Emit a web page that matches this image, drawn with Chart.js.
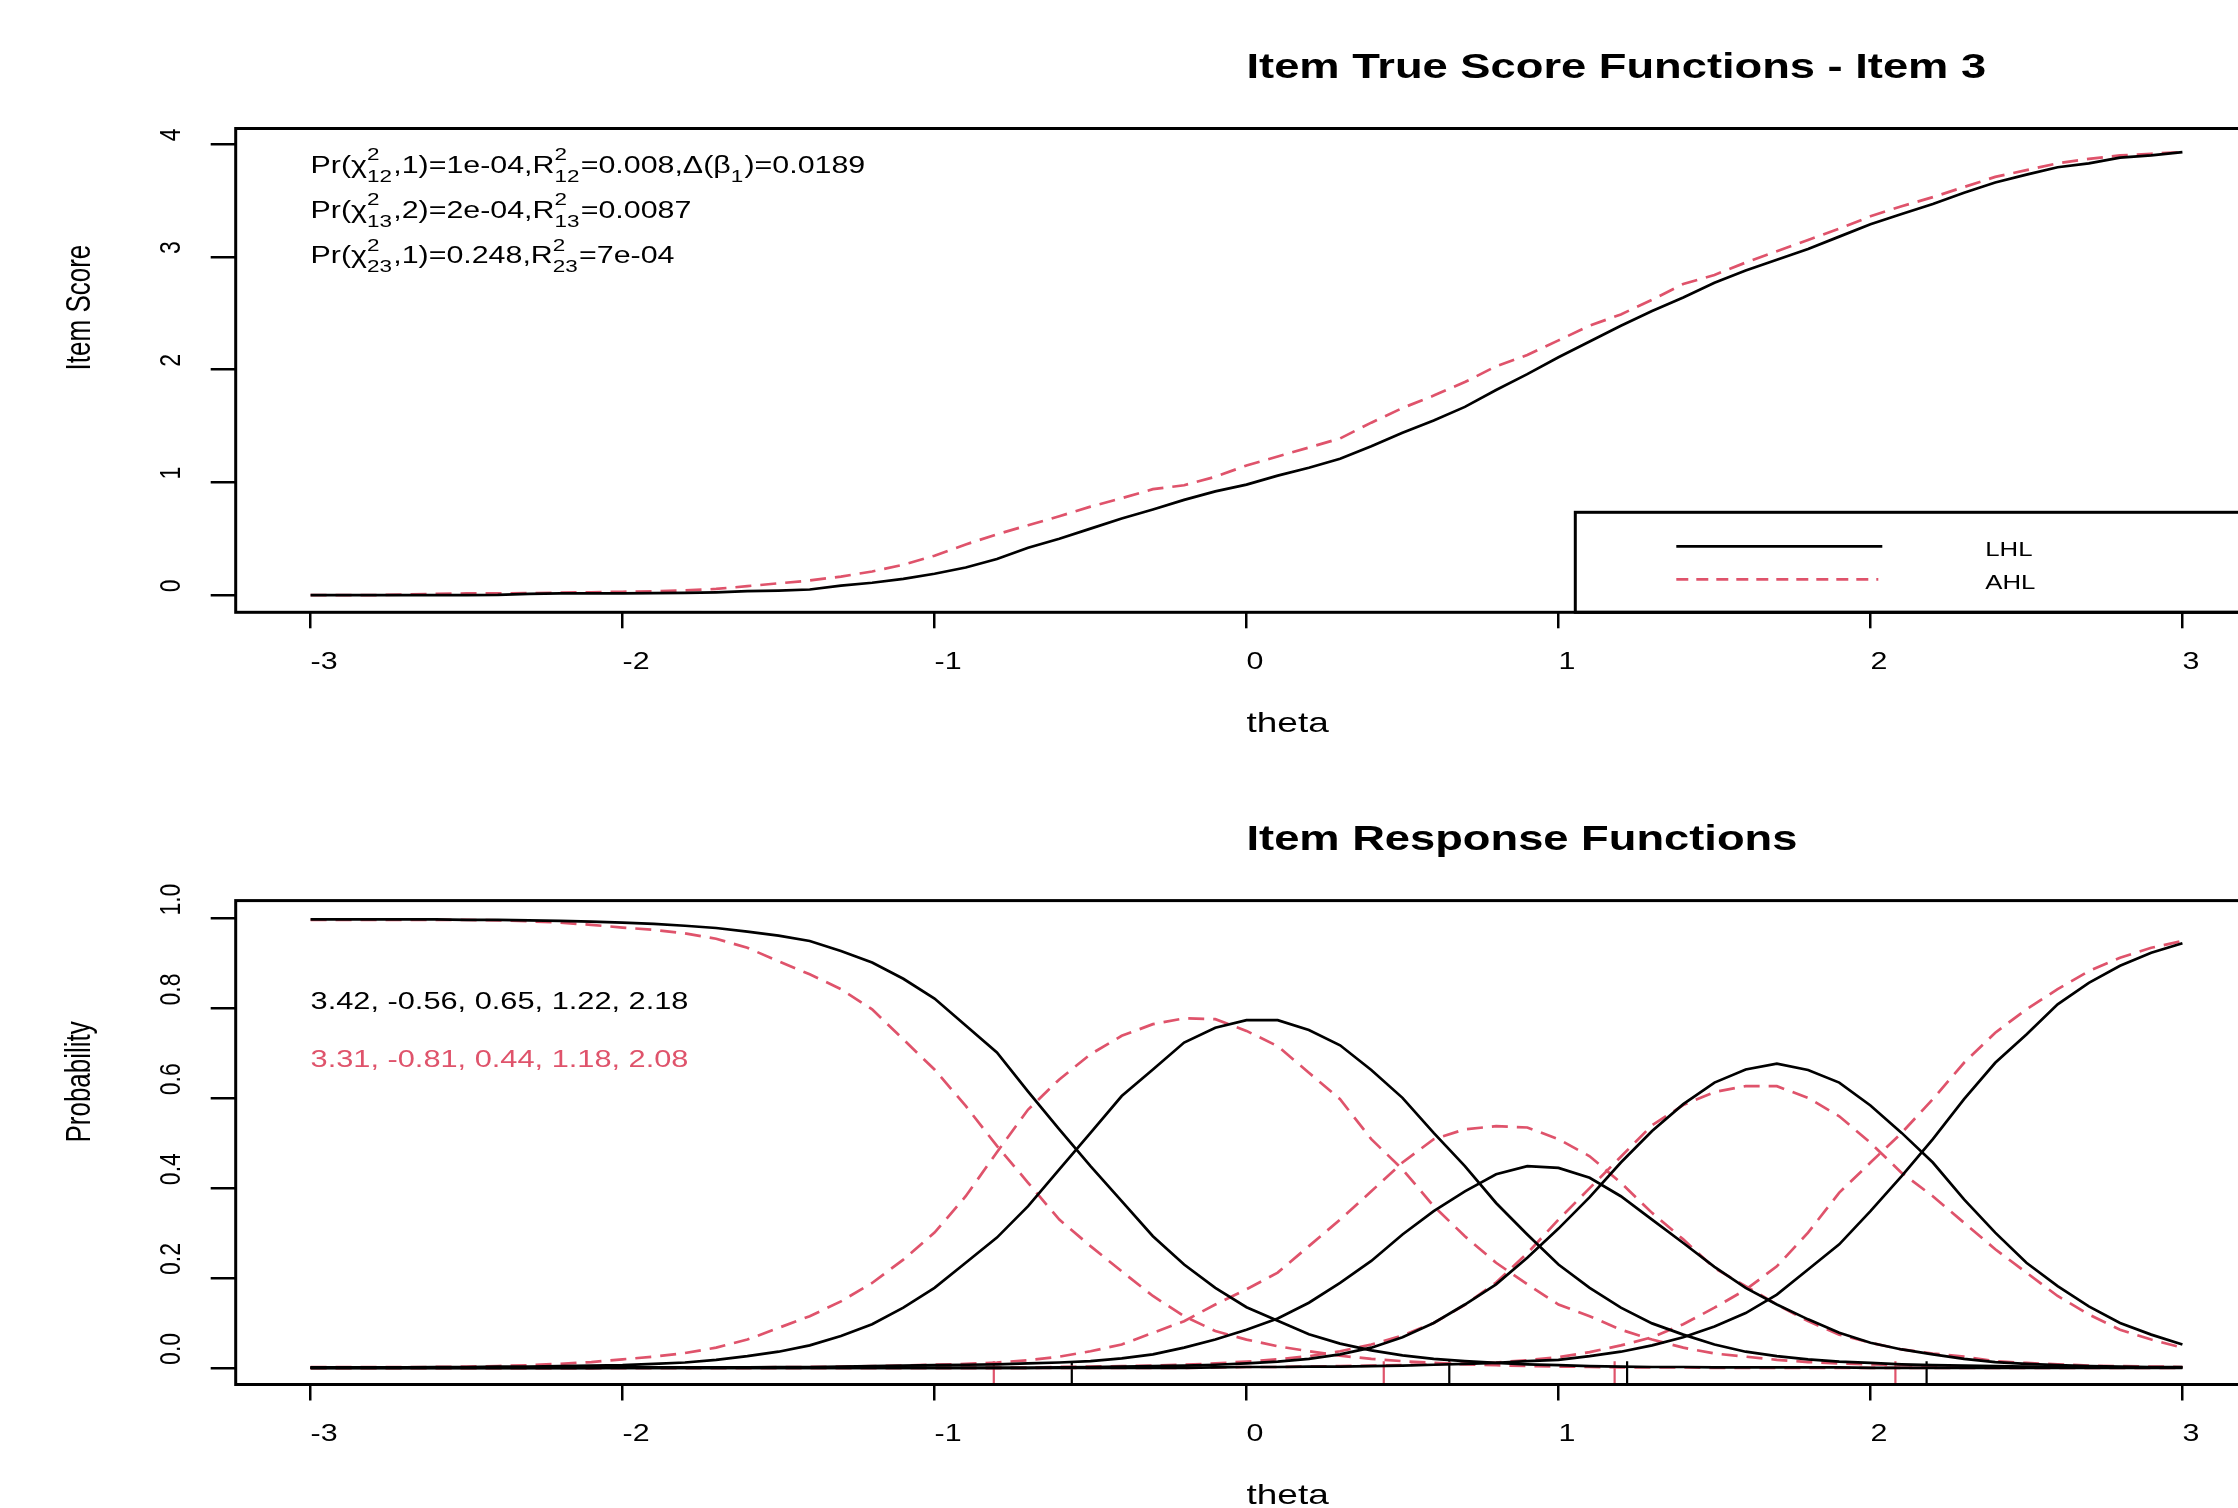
<!DOCTYPE html>
<html>
<head>
<meta charset="utf-8">
<title>Item True Score Functions - Item 3</title>
<script src="https://cdn.jsdelivr.net/npm/chart.js@4.4.0/dist/chart.umd.min.js"></script>
<style>
  html, body { margin: 0; padding: 0; background: #fff; overflow: hidden; width: 2238px; height: 1508px; }
  canvas { position: absolute; left: 0; }
  #topChart { top: 0; }
  #bottomChart { top: 760px; }
</style>
</head>
<body>
<canvas id="topChart" width="2300" height="760"></canvas>
<canvas id="bottomChart" width="2300" height="748"></canvas>

<script>
  // theta grid (x values of every curve)
  const theta = [
    -3.0, -2.9, -2.8, -2.7, -2.6, -2.5, -2.4, -2.3, -2.2, -2.1,
    -2.0, -1.9, -1.8, -1.7, -1.6, -1.5, -1.4, -1.3, -1.2, -1.1,
    -1.0, -0.9, -0.8, -0.7, -0.6, -0.5, -0.4, -0.3, -0.2, -0.1,
     0.0,  0.1,  0.2,  0.3,  0.4,  0.5,  0.6,  0.7,  0.8,  0.9,
     1.0,  1.1,  1.2,  1.3,  1.4,  1.5,  1.6,  1.7,  1.8,  1.9,
     2.0,  2.1,  2.2,  2.3,  2.4,  2.5,  2.6,  2.7,  2.8,  2.9,
     3.0
  ];
  const xTicks = [-3, -2, -1, 0, 1, 2, 3];
  const scoreTicks = [0, 1, 2, 3, 4];
  const probTicks = [0, 0.2, 0.4, 0.6, 0.8, 1.0];

  // item true score functions
  const scoreLHL = [
    0, 0, 0, 0, 0, 0, 0.002, 0.012, 0.015, 0.015,
    0.016, 0.018, 0.02, 0.025, 0.035, 0.04, 0.05, 0.085, 0.11, 0.145,
    0.19, 0.245, 0.32, 0.42, 0.5, 0.59, 0.68, 0.76, 0.845, 0.92,
    0.98, 1.06, 1.13, 1.21, 1.32, 1.44, 1.55, 1.67, 1.82, 1.96,
    2.11, 2.25, 2.39, 2.52, 2.64, 2.77, 2.88, 2.975, 3.07, 3.18,
    3.29, 3.38, 3.47, 3.57, 3.66, 3.73, 3.795, 3.83, 3.88, 3.9,
    3.93
  ];
  const scoreAHL = [
    0, 0, 0, 0.005, 0.012, 0.015, 0.015, 0.018, 0.022, 0.026,
    0.03, 0.035, 0.042, 0.055, 0.08, 0.105, 0.13, 0.165, 0.21, 0.27,
    0.35, 0.45, 0.54, 0.62, 0.7, 0.785, 0.86, 0.94, 0.975, 1.05,
    1.15, 1.23, 1.31, 1.39, 1.53, 1.66, 1.77, 1.89, 2.03, 2.13,
    2.26, 2.39, 2.49, 2.62, 2.76, 2.84, 2.95, 3.05, 3.15, 3.25,
    3.36, 3.45, 3.53, 3.62, 3.71, 3.77, 3.83, 3.87, 3.9, 3.915,
    3.93
  ];

  // item response functions, LHL (black)
  const lhlP0 = [
    0.998, 0.998, 0.998, 0.998, 0.998, 0.997, 0.997, 0.996, 0.995, 0.993,
    0.991, 0.988, 0.984, 0.979, 0.971, 0.962, 0.950, 0.928, 0.902, 0.866,
    0.822, 0.762, 0.702, 0.615, 0.531, 0.449, 0.371, 0.293, 0.230, 0.178,
    0.135, 0.105, 0.075, 0.054, 0.039, 0.028, 0.020, 0.015, 0.011, 0.008,
    0.006, 0.004, 0.003, 0.002, 0.002, 0.001, 0.001, 0.001, 0.001, 0.001,
    0, 0, 0, 0, 0, 0, 0, 0, 0, 0,
    0
  ];
  const lhlP1 = [
    0.001, 0.001, 0.001, 0.001, 0.002, 0.002, 0.003, 0.003, 0.004, 0.005,
    0.006, 0.009, 0.012, 0.018, 0.026, 0.036, 0.050, 0.071, 0.097, 0.134,
    0.178, 0.234, 0.290, 0.360, 0.442, 0.523, 0.605, 0.664, 0.724, 0.757,
    0.774, 0.774, 0.752, 0.718, 0.663, 0.601, 0.523, 0.449, 0.367, 0.297,
    0.230, 0.178, 0.134, 0.099, 0.074, 0.052, 0.036, 0.026, 0.019, 0.014,
    0.011, 0.008, 0.006, 0.005, 0.004, 0.003, 0.002, 0.002, 0.001, 0.001,
    0.001
  ];
  const lhlP2 = [
    0, 0, 0, 0, 0, 0, 0, 0, 0, 0,
    0.001, 0.001, 0.001, 0.001, 0.001, 0.002, 0.002, 0.003, 0.004, 0.005,
    0.006, 0.007, 0.008, 0.010, 0.012, 0.015, 0.021, 0.030, 0.045, 0.063,
    0.085, 0.110, 0.145, 0.189, 0.238, 0.297, 0.349, 0.393, 0.431, 0.449,
    0.445, 0.423, 0.382, 0.330, 0.278, 0.225, 0.178, 0.141, 0.108, 0.078,
    0.056, 0.041, 0.030, 0.020, 0.013, 0.009, 0.006, 0.004, 0.003, 0.002,
    0.002
  ];
  const lhlP3 = [
    0, 0, 0, 0, 0, 0, 0, 0, 0, 0,
    0, 0, 0, 0, 0, 0, 0, 0, 0, 0,
    0, 0, 0, 0, 0.001, 0.002, 0.003, 0.004, 0.005, 0.007,
    0.010, 0.014, 0.020, 0.030, 0.045, 0.068, 0.100, 0.141, 0.186, 0.245,
    0.310, 0.380, 0.457, 0.527, 0.587, 0.635, 0.664, 0.677, 0.663, 0.635,
    0.584, 0.523, 0.457, 0.375, 0.301, 0.234, 0.182, 0.137, 0.100, 0.074,
    0.052
  ];
  const lhlP4 = [
    0, 0, 0, 0, 0, 0, 0, 0, 0, 0,
    0, 0, 0, 0, 0, 0, 0, 0, 0, 0,
    0, 0, 0, 0, 0, 0, 0, 0, 0, 0.001,
    0.002, 0.002, 0.003, 0.003, 0.004, 0.005, 0.007, 0.009, 0.011, 0.015,
    0.018, 0.026, 0.036, 0.050, 0.068, 0.092, 0.122, 0.163, 0.219, 0.275,
    0.349, 0.427, 0.509, 0.598, 0.679, 0.742, 0.809, 0.857, 0.895, 0.924,
    0.945
  ];

  // item response functions, AHL (red dashed)
  const ahlP0 = [
    0.997, 0.997, 0.997, 0.997, 0.997, 0.997, 0.996, 0.994, 0.991, 0.986,
    0.980, 0.975, 0.967, 0.955, 0.935, 0.905, 0.876, 0.843, 0.798, 0.731,
    0.664, 0.583, 0.494, 0.412, 0.330, 0.271, 0.215, 0.160, 0.115, 0.082,
    0.063, 0.048, 0.037, 0.027, 0.020, 0.015, 0.011, 0.008, 0.006, 0.004,
    0.003, 0.002, 0.001, 0.001, 0.001, 0, 0, 0, 0, 0,
    0, 0, 0, 0, 0, 0, 0, 0, 0, 0,
    0
  ];
  const ahlP1 = [
    0.002, 0.002, 0.002, 0.002, 0.002, 0.003, 0.004, 0.006, 0.009, 0.013,
    0.019, 0.025, 0.033, 0.045, 0.063, 0.089, 0.115, 0.148, 0.189, 0.241,
    0.301, 0.382, 0.480, 0.575, 0.642, 0.698, 0.739, 0.765, 0.778, 0.776,
    0.750, 0.716, 0.657, 0.598, 0.509, 0.442, 0.360, 0.293, 0.234, 0.186,
    0.141, 0.115, 0.085, 0.063, 0.045, 0.032, 0.025, 0.018, 0.013, 0.010,
    0.008, 0.006, 0.004, 0.003, 0.002, 0.002, 0.001, 0.001, 0.001, 0.001,
    0.001
  ];
  const ahlP2 = [
    0, 0, 0, 0, 0, 0, 0, 0, 0, 0,
    0.001, 0.001, 0.001, 0.001, 0.001, 0.002, 0.002, 0.003, 0.004, 0.005,
    0.007, 0.009, 0.012, 0.017, 0.025, 0.037, 0.052, 0.078, 0.104, 0.141,
    0.175, 0.212, 0.271, 0.330, 0.393, 0.457, 0.509, 0.531, 0.538, 0.535,
    0.509, 0.471, 0.412, 0.345, 0.286, 0.222, 0.182, 0.141, 0.104, 0.074,
    0.056, 0.041, 0.032, 0.025, 0.015, 0.011, 0.008, 0.005, 0.004, 0.003,
    0.002
  ];
  const ahlP3 = [
    0, 0, 0, 0, 0, 0, 0, 0, 0, 0,
    0, 0, 0, 0, 0, 0, 0, 0, 0, 0,
    0, 0, 0, 0, 0.002, 0.003, 0.004, 0.005, 0.007, 0.010,
    0.014, 0.019, 0.026, 0.037, 0.052, 0.072, 0.100, 0.140, 0.190, 0.255,
    0.330, 0.400, 0.470, 0.540, 0.585, 0.614, 0.627, 0.627, 0.601, 0.560,
    0.501, 0.434, 0.382, 0.323, 0.264, 0.212, 0.160, 0.119, 0.085, 0.063,
    0.045
  ];
  const ahlP4 = [
    0, 0, 0, 0, 0, 0, 0, 0, 0, 0,
    0, 0, 0, 0, 0, 0, 0, 0, 0, 0,
    0, 0, 0, 0, 0, 0, 0, 0, 0, 0.001,
    0.002, 0.002, 0.003, 0.004, 0.005, 0.006, 0.008, 0.010, 0.012, 0.017,
    0.024, 0.035, 0.050, 0.068, 0.097, 0.134, 0.174, 0.226, 0.301, 0.390,
    0.457, 0.523, 0.598, 0.679, 0.746, 0.798, 0.843, 0.883, 0.913, 0.935,
    0.950
  ];

  // slope and thresholds printed on the lower panel (thresholds also drawn as rug)
  const lhlParams = [3.42, -0.56, 0.65, 1.22, 2.18];
  const ahlParams = [3.31, -0.81, 0.44, 1.18, 2.08];

  const BLACK = '#000000';
  const RED = '#DF536B';
  const FONT = "'Liberation Sans', Arial, Helvetica, sans-serif";
  const SX = 1.32;   // the original text is drawn horizontally widened

  const pts = ys => theta.map((t, i) => ({ x: t, y: ys[i] }));

  function wideText(ctx, str, x, y, size, o = {}) {
    ctx.save();
    ctx.translate(x, y);
    ctx.scale(SX, 1);
    if (o.rotate) ctx.rotate(-Math.PI / 2);
    ctx.font = (o.bold ? 'bold ' : '') + size + 'px ' + FONT;
    ctx.fillStyle = o.color || BLACK;
    ctx.textAlign = 'left';
    ctx.textBaseline = 'middle';
    ctx.fillText(str, 0, 0);
    ctx.restore();
  }

  // text with stacked super/subscripts, e.g. chi^2_12
  function mathText(ctx, parts, x, y, size) {
    ctx.save();
    ctx.translate(x, y);
    ctx.scale(SX, 1);
    ctx.fillStyle = BLACK;
    ctx.textAlign = 'left';
    ctx.textBaseline = 'middle';
    const small = Math.round(size * 0.72);
    let cx = 0;
    parts.forEach(p => {
      if (typeof p === 'string') {
        ctx.font = size + 'px ' + FONT;
        ctx.fillText(p, cx, 0);
        cx += ctx.measureText(p).width;
      } else {
        ctx.font = small + 'px ' + FONT;
        let w = 0;
        if (p.sup) { ctx.fillText(p.sup, cx, -size * 0.48); w = Math.max(w, ctx.measureText(p.sup).width); }
        if (p.sub) { ctx.fillText(p.sub, cx, size * 0.45); w = Math.max(w, ctx.measureText(p.sub).width); }
        cx += w + 1;
      }
    });
    ctx.restore();
  }

  // box, tick labels, titles (R style: labels start where they'd be centred)
  const framePlugin = {
    id: 'frame',
    afterDraw(chart, args, opts) {
      const { ctx, chartArea: a, scales: { x, y } } = chart;
      ctx.save();
      ctx.strokeStyle = BLACK;
      ctx.lineWidth = 3;
      ctx.strokeRect(a.left, a.top, a.right - a.left, a.bottom - a.top);
      ctx.restore();

      xTicks.forEach(v => wideText(ctx, String(v), x.getPixelForValue(v), a.bottom + 50, 23));
      opts.yTicks.forEach(v =>
        wideText(ctx, opts.fmt(v), a.left - 64, y.getPixelForValue(v) - 3, 23, { rotate: true }));

      const cx = x.getPixelForValue(0);
      wideText(ctx, opts.title, cx, a.top - 60, 34.3, { bold: true });
      wideText(ctx, 'theta', cx, a.bottom + 112, 28);
      wideText(ctx, opts.yTitle, a.left - 155, (a.top + a.bottom) / 2, 26, { rotate: true });
    }
  };

  function xScale() {
    return {
      type: 'linear', min: -3.24, max: 3.24,
      afterBuildTicks: s => { s.ticks = xTicks.map(v => ({ value: v })); },
      afterFit: s => { s.height = 60; },
      grid: { drawOnChartArea: false, drawTicks: true, tickLength: 16, color: BLACK, lineWidth: 2.5 },
      border: { display: false },
      ticks: { display: false }
    };
  }
  function yScale(min, max, tickVals) {
    return {
      type: 'linear', min: min, max: max,
      afterBuildTicks: s => { s.ticks = tickVals.map(v => ({ value: v })); },
      afterFit: s => { s.width = 60; },
      grid: { drawOnChartArea: false, drawTicks: true, tickLength: 25, color: BLACK, lineWidth: 2.5 },
      border: { display: false },
      ticks: { display: false }
    };
  }

  const solid = (data, color) => ({
    data: pts(data), borderColor: color, borderWidth: 2.7,
    pointRadius: 0, tension: 0, fill: false
  });
  const dashed = (data, color) => ({ ...solid(data, color), borderDash: [16, 9] });

  // ---------- top panel ----------
  const topExtras = {
    id: 'topExtras',
    afterDraw(chart) {
      const { ctx, chartArea: a, scales: { x, y } } = chart;
      const x0 = x.getPixelForValue(-3);
      mathText(ctx, ['Pr(\u03C7', { sup: '2', sub: '12' }, ',1)=1e-04,R', { sup: '2', sub: '12' },
                     '=0.008,\u0394(\u03B2', { sub: '1' }, ')=0.0189'], x0, y.getPixelForValue(3.8), 23);
      mathText(ctx, ['Pr(\u03C7', { sup: '2', sub: '13' }, ',2)=2e-04,R', { sup: '2', sub: '13' },
                     '=0.0087'], x0, y.getPixelForValue(3.4), 23);
      mathText(ctx, ['Pr(\u03C7', { sup: '2', sub: '23' }, ',1)=0.248,R', { sup: '2', sub: '23' },
                     '=7e-04'], x0, y.getPixelForValue(3.0), 23);

      // legend box (bottom right, runs past the picture edge)
      const left = a.right - 682, top = a.bottom - 100;
      ctx.save();
      ctx.fillStyle = '#fff';
      ctx.fillRect(left, top, a.right - left, a.bottom - top);
      ctx.strokeStyle = BLACK;
      ctx.lineWidth = 3;
      ctx.strokeRect(left, top, a.right - left, a.bottom - top);
      ctx.lineWidth = 2.7;
      ctx.beginPath();
      ctx.moveTo(left + 101, top + 34); ctx.lineTo(left + 307, top + 34);
      ctx.stroke();
      ctx.strokeStyle = RED;
      ctx.setLineDash([12, 8]);
      ctx.beginPath();
      ctx.moveTo(left + 101, top + 67); ctx.lineTo(left + 303, top + 67);
      ctx.stroke();
      ctx.restore();
      wideText(ctx, 'LHL', left + 410, top + 38, 19.5);
      wideText(ctx, 'AHL', left + 410, top + 71, 19.5);
    }
  };

  new Chart(document.getElementById('topChart'), {
    type: 'line',
    data: {
      datasets: [
        solid(scoreLHL, BLACK),
        dashed(scoreAHL, RED)
      ]
    },
    options: {
      responsive: false,
      devicePixelRatio: 1,
      animation: false,
      layout: { padding: { left: 175.7, top: 128.5, right: 42.7, bottom: 87.7 } },
      scales: { x: xScale(), y: yScale(-0.152, 4.139, scoreTicks) },
      plugins: {
        legend: { display: false },
        tooltip: { enabled: false },
        frame: {
          title: 'Item True Score Functions - Item 3',
          yTitle: 'Item Score',
          yTicks: scoreTicks,
          fmt: v => String(v)
        }
      }
    },
    plugins: [topExtras, framePlugin]
  });

  // ---------- bottom panel ----------
  const rug = (b, color) => ({
    data: [{ x: b, y: -0.04 }, { x: b, y: 0.015 }],
    borderColor: color, borderWidth: 2.2, pointRadius: 0, fill: false
  });

  const bottomExtras = {
    id: 'bottomExtras',
    afterDraw(chart) {
      const { ctx, scales: { x, y } } = chart;
      const x0 = x.getPixelForValue(-3);
      wideText(ctx, lhlParams.join(', '), x0, y.getPixelForValue(0.813), 23.3);
      wideText(ctx, ahlParams.join(', '), x0, y.getPixelForValue(0.684), 23.3, { color: RED });
    }
  };

  new Chart(document.getElementById('bottomChart'), {
    type: 'line',
    data: {
      datasets: [
        solid(lhlP0, BLACK), solid(lhlP1, BLACK), solid(lhlP2, BLACK), solid(lhlP3, BLACK), solid(lhlP4, BLACK),
        dashed(ahlP0, RED), dashed(ahlP1, RED), dashed(ahlP2, RED), dashed(ahlP3, RED), dashed(ahlP4, RED),
        ...ahlParams.slice(1).map(b => rug(b, RED)),
        ...lhlParams.slice(1).map(b => rug(b, BLACK))
      ]
    },
    options: {
      responsive: false,
      devicePixelRatio: 1,
      animation: false,
      layout: { padding: { left: 175.7, top: 140.6, right: 42.7, bottom: 63.5 } },
      scales: { x: xScale(), y: yScale(-0.037, 1.04, probTicks) },
      plugins: {
        legend: { display: false },
        tooltip: { enabled: false },
        frame: {
          title: 'Item Response Functions',
          yTitle: 'Probability',
          yTicks: probTicks,
          fmt: v => v.toFixed(1)
        }
      }
    },
    plugins: [bottomExtras, framePlugin]
  });
</script>
</body>
</html>
